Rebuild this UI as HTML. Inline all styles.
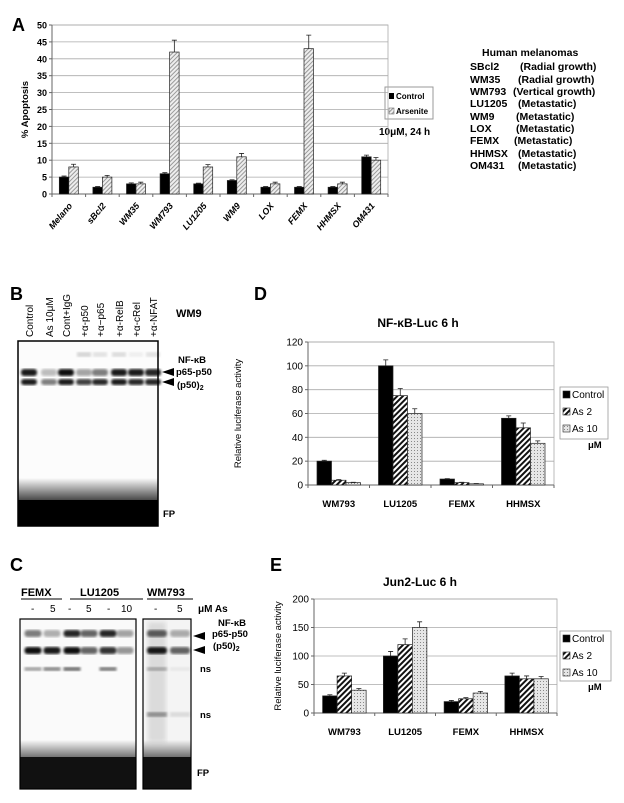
<!DOCTYPE html>
<html><head><meta charset="utf-8"><style>
body{margin:0;background:#fff}
svg{display:block;font-family:"Liberation Sans",Arial,sans-serif}
.b{font-weight:bold}
</style></head><body>
<svg id="fig" width="624" height="803" viewBox="0 0 624 803" xmlns="http://www.w3.org/2000/svg">
<defs>
<pattern id="hatchA" width="3" height="3" patternUnits="userSpaceOnUse" patternTransform="rotate(45)">
<rect width="3" height="3" fill="#eee"/><rect width="1" height="3" fill="#999"/></pattern>
<pattern id="hatch2" width="4" height="4" patternUnits="userSpaceOnUse" patternTransform="rotate(45)">
<rect width="4" height="4" fill="#fff"/><rect width="2" height="4" fill="#111"/></pattern>
<pattern id="dots" width="3" height="3" patternUnits="userSpaceOnUse">
<rect width="3" height="3" fill="#e6e6e6"/><rect width="1" height="1" fill="#888"/></pattern>
<filter id="blur2"><feGaussianBlur stdDeviation="2"/></filter>
<filter id="blur1"><feGaussianBlur stdDeviation="1.2"/></filter>
<linearGradient id="fpgrad" x1="0" y1="0" x2="0" y2="1"><stop offset="0" stop-color="#000" stop-opacity="0"/><stop offset="0.55" stop-color="#000" stop-opacity="0.85"/><stop offset="1" stop-color="#000"/></linearGradient>
</defs>

<text x="12" y="31" font-size="18" class="b">A</text>
<g>
<rect x="385" y="87" width="48" height="32" fill="#fff" stroke="#999"/>
<rect x="389" y="93" width="5" height="6" fill="#000"/>
<text x="396" y="99" font-size="8" class="b">Control</text>
<rect x="389" y="108" width="5" height="6" fill="url(#hatchA)" stroke="#555" stroke-width="0.5"/>
<text x="396" y="114" font-size="8" class="b">Arsenite</text>
</g>
<text x="379" y="135" font-size="10" class="b">10μM, 24 h</text>
<g font-size="10.5" class="b">
<text x="482" y="56">Human melanomas</text>
<text x="470" y="70">SBcl2</text><text x="520" y="70">(Radial growth)</text>
<text x="470" y="83">WM35</text><text x="518" y="83">(Radial growth)</text>
<text x="470" y="95">WM793</text><text x="513" y="95">(Vertical growth)</text>
<text x="470" y="107">LU1205</text><text x="518" y="107">(Metastatic)</text>
<text x="470" y="120">WM9</text><text x="516" y="120">(Metastatic)</text>
<text x="470" y="132">LOX</text><text x="516" y="132">(Metastatic)</text>
<text x="470" y="144">FEMX</text><text x="514" y="144">(Metastatic)</text>
<text x="470" y="157">HHMSX</text><text x="518" y="157">(Metastatic)</text>
<text x="470" y="169">OM431</text><text x="518" y="169">(Metastatic)</text>
</g>

<text x="10" y="300" font-size="18" class="b">B</text>
<g font-size="10">
<text transform="translate(33,337) rotate(-90)">Control</text>
<text transform="translate(53,337) rotate(-90)">As 10μM</text>
<text transform="translate(70,337) rotate(-90)">Cont+IgG</text>
<text transform="translate(88,337) rotate(-90)">+α-p50</text>
<text transform="translate(104,337) rotate(-90)">+α−p65</text>
<text transform="translate(123,337) rotate(-90)">+α-RelB</text>
<text transform="translate(140,337) rotate(-90)">+α-cRel</text>
<text transform="translate(157,337) rotate(-90)">+α-NFAT</text>
</g>
<text x="176" y="317" font-size="11" class="b">WM9</text>
<g id="gelB"></g>
<g font-size="9.5" class="b">
<text x="178" y="363">NF-κB</text>
<text x="176" y="375">p65-p50</text>
<text x="177" y="388">(p50)<tspan font-size="7" dy="2">2</tspan></text>
<text x="163" y="517">FP</text>
<polygon points="162,372 174,368 174,376" fill="#000"/>
<polygon points="162,382 174,378 174,386" fill="#000"/>
</g>

<text x="10" y="571" font-size="18" class="b">C</text>
<g font-size="11" class="b">
<text x="21" y="596">FEMX</text><line x1="21" y1="599" x2="62" y2="599" stroke="#000"/>
<text x="80" y="596">LU1205</text><line x1="70" y1="599" x2="143" y2="599" stroke="#000"/>
<text x="147" y="596">WM793</text><line x1="147" y1="599" x2="193" y2="599" stroke="#000"/>
</g>
<g font-size="10">
<text x="31" y="612">-</text><text x="50" y="612">5</text><text x="68" y="612">-</text><text x="86" y="612">5</text><text x="107" y="612">-</text><text x="121" y="612">10</text><text x="154" y="612">-</text><text x="177" y="612">5</text>
<text x="198" y="612" class="b">μM As</text>
</g>
<g id="gelC"></g>
<g font-size="9.5" class="b">
<text x="218" y="626">NF-κB</text>
<text x="212" y="637">p65-p50</text>
<text x="213" y="649">(p50)<tspan font-size="7" dy="2">2</tspan></text>
<text x="200" y="672">ns</text>
<text x="200" y="718">ns</text>
<text x="197" y="776">FP</text>
<polygon points="193,636 205,632 205,640" fill="#000"/>
<polygon points="193,650 205,646 205,654" fill="#000"/>
</g>

<text x="254" y="300" font-size="18" class="b">D</text>
<text x="270" y="571" font-size="18" class="b">E</text>
<g id="chartA"></g>
<g id="chartD"></g>
<g id="chartE"></g>
</svg>
<script>
const aCategories = ["Melano","sBcl2","WM35","WM793","LU1205","WM9","LOX","FEMX","HHMSX","OM431"];
const aControl = [5,2,3,6,3,4,2,2,2,11];
const aArsenite = [8,5,3,42,8,11,3,43,3,10];
const aControlErr = [0.3,0.2,0.3,0.3,0.2,0.2,0.2,0.2,0.2,0.5];
const aArseniteErr = [0.8,0.5,0.5,3.5,0.7,1,0.5,4,0.5,0.8];
const aTicks = [0,5,10,15,20,25,30,35,40,45,50];
const dCategories = ["WM793","LU1205","FEMX","HHMSX"];
const dControl = [20,100,5,56];
const dAs2 = [4,75,2,48];
const dAs10 = [2,60,1,35];
const dControlErr = [0.7,5,0.3,2];
const dAs2Err = [0.6,6,0.3,4];
const dAs10Err = [0.3,4,0.2,2];
const dTicks = [0,20,40,60,80,100,120];
const eCategories = ["WM793","LU1205","FEMX","HHMSX"];
const eControl = [30,100,20,65];
const eAs2 = [65,120,25,60];
const eAs10 = [40,150,35,60];
const eControlErr = [2,8,2,5];
const eAs2Err = [5,10,2,5];
const eAs10Err = [3,10,3,4];
const eTicks = [0,50,100,150,200];

const NS="http://www.w3.org/2000/svg";
function mk(parent,tag,attrs,text){const e=document.createElementNS(NS,tag);for(const k in attrs)e.setAttribute(k,attrs[k]);if(text!==undefined)e.textContent=text;parent.appendChild(e);return e;}

function chart(g,o){
  const x0=o.x0,x1=o.x1,yTop=o.yTop,yBot=o.yBot,max=o.max;
  const y=v=>yBot-(v/max)*(yBot-yTop);
  const gw=(x1-x0)/o.cats.length;
  const xc=i=>x0+gw*(i+0.5);
  o.ticks.forEach(t=>{
    const gl=mk(g,'line',{x1:x0,x2:x1,y1:y(t),y2:y(t),stroke:'#aaa','stroke-width':0.8});
    
    
    mk(g,'line',{x1:x0-3,x2:x0,y1:y(t),y2:y(t),stroke:'#666'});
    const tl=mk(g,'text',{x:x0-5,y:y(t)+3.5,'font-size':o.tfs,'text-anchor':'end','font-weight':o.tickBold?'bold':'normal'},t);
    
    
  });
  mk(g,'rect',{x:x0,y:yTop,width:x1-x0,height:yBot-yTop,fill:'none',stroke:'#aaa','stroke-width':0.8});
  mk(g,'line',{x1:x0,x2:x0,y1:yTop,y2:yBot,stroke:'#666'});
  mk(g,'line',{x1:x0,x2:x1,y1:yBot,y2:yBot,stroke:'#666'});
  for(let i=0;i<=o.cats.length;i++) mk(g,'line',{x1:x0+gw*i,x2:x0+gw*i,y1:yBot,y2:yBot+3,stroke:'#666'});
  o.cats.forEach((c,i)=>{
    const n=o.series.length,bw=o.bw,start=xc(i)-bw*n/2;
    o.series.forEach((s,j)=>{
      const v=s.vals[i],e=s.err[i],bx=start+bw*j;
      const r=mk(g,'rect',{x:bx,y:y(v),width:bw,height:yBot-y(v),fill:s.fill,stroke:'#222','stroke-width':0.7});
      
      
      const cx=bx+bw/2;
      const eb=mk(g,'path',{d:`M${cx},${y(v)} V${y(v+e)} M${cx-2.5},${y(v+e)} H${cx+2.5}`,stroke:'#222','stroke-width':0.8,fill:'none'});
      
      
    });
    let lab;
    if(o.rotate){
      lab=mk(g,'text',{transform:`translate(${xc(i)+4},${yBot+12}) rotate(-50)`,'font-size':9,'font-weight':'bold','font-style':'italic','text-anchor':'end'},c);
    }else{
      lab=mk(g,'text',{x:xc(i),y:o.catY,'font-size':9.5,'font-weight':'bold','text-anchor':'middle'},c);
    }
    
    
  });
  const yt=mk(g,'text',{transform:`translate(${o.ytx},${(yTop+yBot)/2}) rotate(-90)`,'font-size':o.yfs,'text-anchor':'middle','font-weight':o.tickBold?'bold':'normal'},o.ytitle);
  
  
  if(o.title){
    const tt=mk(g,'text',{x:o.titleX,y:o.titleY,'font-size':12,'font-weight':'bold','text-anchor':'middle','xml:space':'preserve'},o.title);
    
    
  }
  if(o.legend){
    const L=o.legend;
    const lg=mk(g,'g',{});
    
    
    mk(lg,'rect',{x:L.x,y:L.y,width:L.w,height:L.h,fill:'#fff',stroke:'#999','stroke-width':0.8});
    o.series.forEach((s,j)=>{
      const ly=L.y+10+j*L.step;
      mk(lg,'rect',{x:L.x+3,y:ly-6,width:7,height:7,fill:s.fill,stroke:'#222','stroke-width':0.6});
      const t=mk(lg,'text',{x:L.x+12,y:ly+1,'font-size':10},s.label);
      
      
    });
    const um=mk(lg,'text',{x:L.x+28,y:L.y+L.h+9,'font-size':9.5,'font-weight':'bold'},'μM');
    
    
  }
}

chart(document.getElementById('chartA'),{x0:52,x1:388,yTop:25,yBot:194,max:50,cats:aCategories,ticks:aTicks,bw:9.5,tfs:9,tickBold:true,rotate:true,ytx:28,yfs:9.5,ytitle:'% Apoptosis',
 series:[{name:'control',vals:aControl,err:aControlErr,fill:'#000'},{name:'arsenite',vals:aArsenite,err:aArseniteErr,fill:'url(#hatchA)'}]});
chart(document.getElementById('chartD'),{x0:308,x1:554,yTop:342,yBot:485,max:120,cats:dCategories,ticks:dTicks,bw:14.5,tfs:10,catY:507,ytx:241,yfs:9.5,ytitle:'Relative luciferase activity',title:'NF-κB-Luc   6 h',titleX:418,titleY:327,
 legend:{x:560,y:387,w:48,h:52,step:17},
 series:[{name:'control',label:'Control',vals:dControl,err:dControlErr,fill:'#000'},{name:'as2',label:'As 2',vals:dAs2,err:dAs2Err,fill:'url(#hatch2)'},{name:'as10',label:'As 10',vals:dAs10,err:dAs10Err,fill:'url(#dots)'}]});
chart(document.getElementById('chartE'),{x0:314,x1:557,yTop:599,yBot:713,max:200,cats:eCategories,ticks:eTicks,bw:14.5,tfs:10,catY:735,ytx:281,yfs:9.5,ytitle:'Relative luciferase activity',title:'Jun2-Luc     6 h',titleX:420,titleY:586,
 legend:{x:560,y:631,w:51,h:50,step:17},
 series:[{name:'control',label:'Control',vals:eControl,err:eControlErr,fill:'#000'},{name:'as2',label:'As 2',vals:eAs2,err:eAs2Err,fill:'url(#hatch2)'},{name:'as10',label:'As 10',vals:eAs10,err:eAs10Err,fill:'url(#dots)'}]});

const gB=document.getElementById('gelB');
const bLanes=[29,49,66,84,100,119,136,153];
const bUpper=[0.9,0.25,0.95,0.35,0.5,0.9,0.9,0.85];
const bLower=[0.9,0.5,0.9,0.75,0.85,0.9,0.85,0.85];
const bSuper=[0,0,0,0.15,0.1,0.12,0.05,0.1];
mk(gB,'rect',{x:18,y:341,width:140,height:185,fill:'#fcfcfc'});
mk(gB,'rect',{x:18,y:478,width:140,height:48,fill:'url(#fpgrad)'});
mk(gB,'rect',{x:18,y:500,width:140,height:26,fill:'#000'});
bLanes.forEach((x,i)=>{
  const u=mk(gB,'rect',{x:x-8,y:369,width:16,height:7,rx:3,fill:'#000','fill-opacity':bUpper[i],filter:'url(#blur1)'});
  
  
  const l=mk(gB,'rect',{x:x-8,y:379,width:16,height:6,rx:3,fill:'#000','fill-opacity':bLower[i],filter:'url(#blur1)'});
  
  
  if(bSuper[i]>0) mk(gB,'rect',{x:x-7,y:352,width:14,height:5,fill:'#000','fill-opacity':bSuper[i],filter:'url(#blur1)'});
});
mk(gB,'rect',{x:18,y:341,width:140,height:185,fill:'none',stroke:'#000','stroke-width':1.5});

const gC=document.getElementById('gelC');
const cLanes=[33,52,72,89,108,125,157,180];
const cUpper=[0.5,0.3,0.85,0.6,0.85,0.35,0.6,0.3];
const cLower=[0.95,0.9,0.95,0.6,0.8,0.4,0.9,0.6];
const cNs1=[0.35,0.45,0.55,0,0.5,0,0.25,0.05];
const cNs2=[0,0,0,0,0,0,0.35,0.1];
mk(gC,'rect',{x:20,y:619,width:116,height:170,fill:'#fafafa'});
mk(gC,'rect',{x:143,y:619,width:48,height:170,fill:'#f4f4f4'});
mk(gC,'rect',{x:148,y:622,width:18,height:120,fill:'#000','fill-opacity':0.1,filter:'url(#blur2)'});
[[20,116],[143,48]].forEach(([x,w])=>{
  mk(gC,'rect',{x:x,y:740,width:w,height:49,fill:'url(#fpgrad)'});
  mk(gC,'rect',{x:x,y:757,width:w,height:32,fill:'#111'});
});
cLanes.forEach((x,i)=>{
  const w=i>=6?20:17;
  const u=mk(gC,'rect',{x:x-w/2,y:630,width:w,height:7,rx:3,fill:'#000','fill-opacity':cUpper[i],filter:'url(#blur1)'});
  
  
  const l=mk(gC,'rect',{x:x-w/2,y:647,width:w,height:7,rx:3,fill:'#000','fill-opacity':cLower[i],filter:'url(#blur1)'});
  
  
  if(cNs1[i]>0) mk(gC,'rect',{x:x-w/2,y:667,width:w,height:4,fill:'#000','fill-opacity':cNs1[i],filter:'url(#blur1)'});
  if(cNs2[i]>0) mk(gC,'rect',{x:x-w/2,y:712,width:w,height:5,fill:'#000','fill-opacity':cNs2[i],filter:'url(#blur1)'});
});
mk(gC,'rect',{x:20,y:619,width:116,height:170,fill:'none',stroke:'#000','stroke-width':1.2});
mk(gC,'rect',{x:143,y:619,width:48,height:170,fill:'none',stroke:'#000','stroke-width':1.2});
</script>
</body></html>
